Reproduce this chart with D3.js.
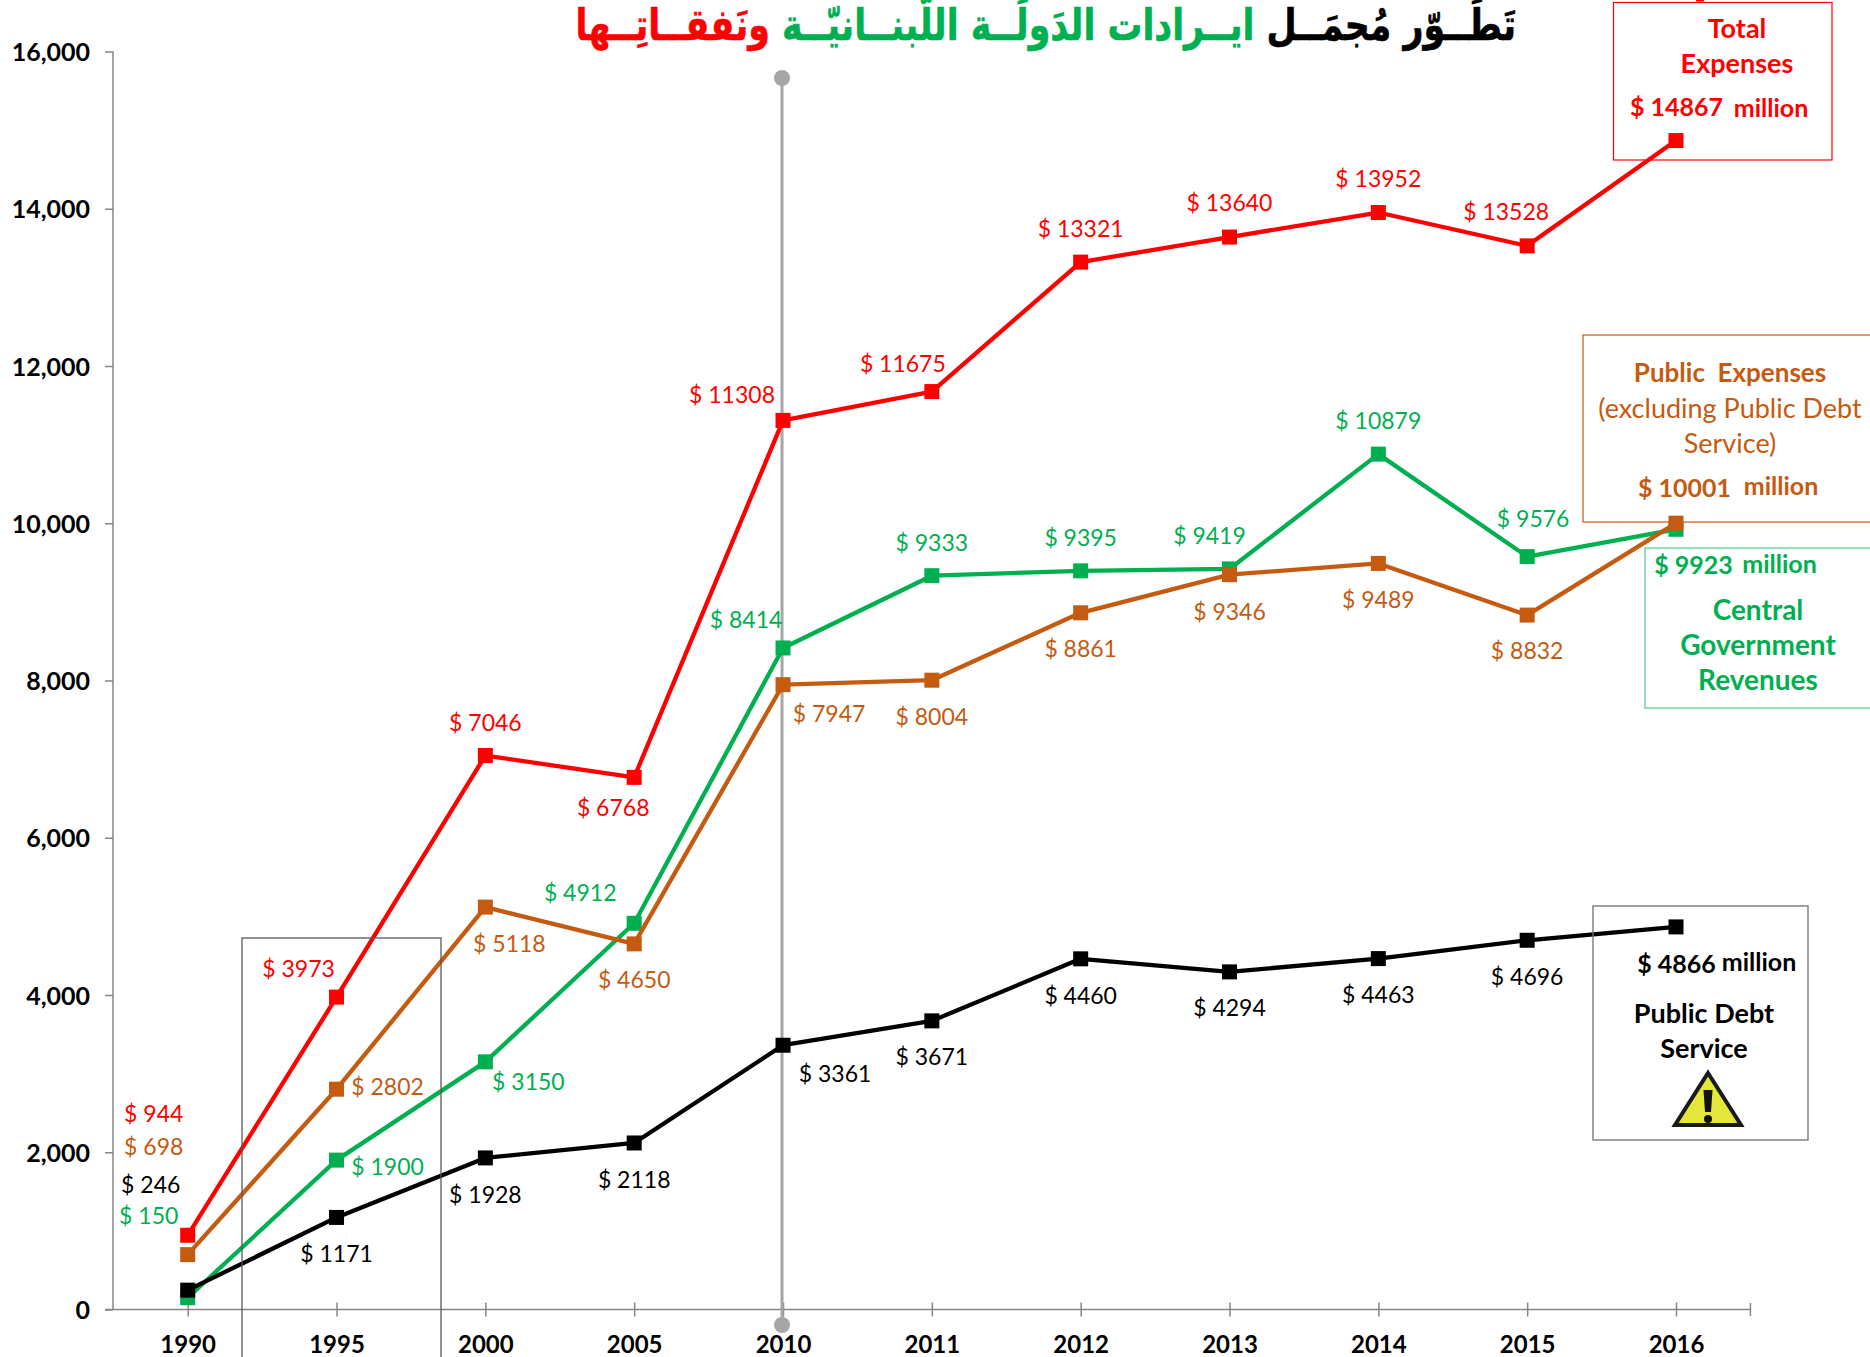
<!DOCTYPE html>
<html lang="en"><head><meta charset="utf-8">
<script src="https://cdn.jsdelivr.net/npm/d3@7"></script>
<style>
html,body{margin:0;padding:0;background:#fff;overflow:hidden}
svg{display:block}
text{font-family:Lato,"Open Sans",sans-serif;white-space:pre}
</style></head><body>
<script>
// ---- data ----
const years = ["1990","1995","2000","2005","2010","2011","2012","2013","2014","2015","2016"];
const yTicks = [0,2000,4000,6000,8000,10000,12000,14000,16000];
const totalExpenses  = [944,3973,7046,6768,11308,11675,13321,13640,13952,13528,14867];
const publicExpenses = [698,2802,5118,4650,7947,8004,8861,9346,9489,8832,10001];
const revenues       = [150,1900,3150,4912,8414,9333,9395,9419,10879,9576,9923];
const debtService    = [246,1171,1928,2118,3361,3671,4460,4294,4463,4696,4866];

// ---- label offsets from each point (px) ----
const totalOffsets   = [[-34,-122],[-38,-29],[0,-34],[-21,30],[-51,-26],[-29,-29],[0,-34],[0,-35],[0,-35],[-21,-35]];
const publicOffsets  = [[-34,-109],[51,-3],[24,36],[0,35],[46,28],[0,36],[0,35],[0,36],[0,36],[0,35]];
const revenueOffsets = [[-39,-83],[51,6],[43,19],[-54,-31],[-37,-29],[0,-34],[0,-34],[-20,-34],[0,-34],[6,-39]];
const debtOffsets    = [[-37,-106],[0,36],[0,36],[0,36],[52,28],[0,35],[0,36],[0,35],[0,35],[0,36]];

const RED="#ff0000", BROWN="#c55a11", GREEN="#00b050", BLACK="#000000";
const series = [
  {values:revenues,offsets:revenueOffsets,color:GREEN},
  {values:publicExpenses,offsets:publicOffsets,color:BROWN},
  {values:totalExpenses,offsets:totalOffsets,color:RED},
  {values:debtService,offsets:debtOffsets,color:BLACK}
];

const svg = d3.select("body").append("svg").attr("width",1870).attr("height",1357);
const x = d3.scalePoint().domain(years).range([187.7,1676]);
const y = d3.scaleLinear().domain([0,16000]).range([1309.5,51.5]);
const axisColor="#868686";

// ---- title ----
const title = svg.append("text").attr("transform","translate(1516,40) scale(0.994,1.25)")
  .attr("direction","rtl").attr("text-anchor","start")
  .style("font-family","'DejaVu Sans'").style("font-weight","700").style("font-size","35px")
  .attr("stroke-width",0.5);
[["تَطَــوّر مُجمَــل ",BLACK],["ايــرادات الدَولَــة اللُّبنــانيّــة ",GREEN],["ونَفقــاتِــها",RED]]
  .forEach(([t,c])=>title.append("tspan").attr("fill",c).attr("stroke",c).text(t));
svg.append("rect").attr("x",1696).attr("y",0).attr("width",8).attr("height",1.5).attr("fill",RED);

// ---- axes ----
const gy = svg.append("g").attr("transform","translate(113,0)")
  .call(d3.axisLeft(y).tickValues(yTicks).tickFormat(d3.format(",")).tickSize(8).tickPadding(15));
const gx = svg.append("g").attr("transform","translate(0,1309.5)")
  .call(d3.axisBottom(x).tickSize(7).tickPadding(19).tickSizeOuter(0));
gx.selectAll(".tick line").attr("y1",-7);
gx.select(".domain").remove();
gy.select(".domain").remove();
svg.append("line").attr("x1",113).attr("x2",113).attr("y1",y(16000)).attr("y2",y(0));
svg.append("line").attr("x1",105).attr("x2",x("2016")+x.step()/2).attr("y1",y(0)).attr("y2",y(0));
svg.selectAll("svg > line").attr("stroke",axisColor).attr("stroke-width",1.5);
svg.append("line").attr("x1",x("2016")+x.step()/2).attr("x2",x("2016")+x.step()/2).attr("y1",1303).attr("y2",1316)
  .attr("stroke",axisColor).attr("stroke-width",1.5);
[gx,gy].forEach(g=>{
  g.selectAll(".tick line").attr("stroke",axisColor).attr("stroke-width",1.5);
  g.selectAll("text").attr("fill","#000").style("font-family","Lato").style("font-weight","700");
});
gy.selectAll("text").style("font-size","25px").attr("dy","0.36em");
gx.selectAll("text").style("font-size","24px");

// ---- reference line at 2010 ----
const refX=x("2010")-1;
svg.append("line").attr("x1",refX).attr("x2",refX).attr("y1",78).attr("y2",1325).attr("stroke","#a6a6a6").attr("stroke-width",3);
svg.selectAll("ellipse.cap").data([78,1325]).join("ellipse").attr("class","cap")
  .attr("cx",refX).attr("cy",d=>d).attr("rx",8).attr("ry",8).attr("fill","#a6a6a6");

// ---- lines & markers ----
const line = d3.line().x((d,i)=>x(years[i])).y(d=>y(d));
const groups = svg.selectAll("g.series").data(series).join("g").attr("class","series");
groups.append("path").attr("d",d=>line(d.values)).attr("fill","none")
  .attr("stroke",d=>d.color).attr("stroke-width",4.3).attr("stroke-linejoin","round");
groups.selectAll("rect").data(d=>d.values.map((v,i)=>({v,i,color:d.color}))).join("rect")
  .attr("x",d=>x(years[d.i])-7.5).attr("y",d=>y(d.v)-7.5).attr("width",15).attr("height",15).attr("fill",d=>d.color);
groups.selectAll("text").data(d=>d.offsets.map((o,i)=>({o,i,v:d.values[i],color:d.color}))).join("text")
  .attr("x",d=>x(years[d.i])+d.o[0]).attr("y",d=>y(d.v)+d.o[1])
  .attr("text-anchor","middle").attr("dominant-baseline","central")
  .attr("fill",d=>d.color).style("font-size","23px").text(d=>"$ "+d.v);

// ---- boxes ----
function box(l,t,r,b,c,w){svg.append("rect").attr("x",l).attr("y",t).attr("width",r-l).attr("height",b-t)
  .attr("fill","none").attr("stroke",c).attr("stroke-width",w||1.2);}
function label(s,px,py,c,size,weight,anchor){svg.append("text").attr("x",px).attr("y",py)
  .attr("dominant-baseline","central").attr("text-anchor",anchor||"middle").attr("fill",c)
  .style("font-size",size+"px").style("font-weight",weight||700).text(s);}
const last=a=>a[a.length-1];

box(242,938,441,1400,"#595959",1.3);
box(1613.5,2.5,1832,160,RED);
label("Total",1737,27,RED,27);
label("Expenses",1737,62,RED,27);
label("$ "+last(totalExpenses),1676.5,106,RED,25);
label("million",1771,107,RED,25);

box(1583,335,1900,522,BROWN);
label("Public  Expenses",1730,372,BROWN,26);
label("(excluding Public Debt",1730,407,BROWN,27,400);
label("Service)",1730,442,BROWN,27,400);
label("$ "+last(publicExpenses),1684.5,487,BROWN,25);
label("million",1781,485,BROWN,25);

box(1645,548,1900,708,"#70d2a0",1.5);
label("$ "+last(revenues),1693.5,564,GREEN,25);
label("million",1779.5,563,GREEN,25);
label("Central",1758,609,GREEN,28);
label("Government",1758,644,GREEN,28);
label("Revenues",1758,679,GREEN,28);

box(1593,906,1808,1140,"#707070",1.3);
label("$ "+last(debtService),1676.5,963,BLACK,25);
label("million",1759,961,BLACK,25);
label("Public Debt",1704,1012,BLACK,27);
label("Service",1704,1047,BLACK,27);

// ---- warning sign ----
const sign=svg.append("g").attr("transform","translate(1708,1070)");
sign.append("path").attr("d","M0,3 L33,55 L-33,55 Z").attr("fill","#e4e63a").attr("stroke","#1a1a1a").attr("stroke-width",4).attr("stroke-linejoin","miter");
sign.append("path").attr("d","M-4.5,20 L4.5,20 L3,42 L-3,42 Z").attr("fill","#111");
sign.append("circle").attr("cy",49).attr("r",4).attr("fill","#111");
</script>
</body></html>
